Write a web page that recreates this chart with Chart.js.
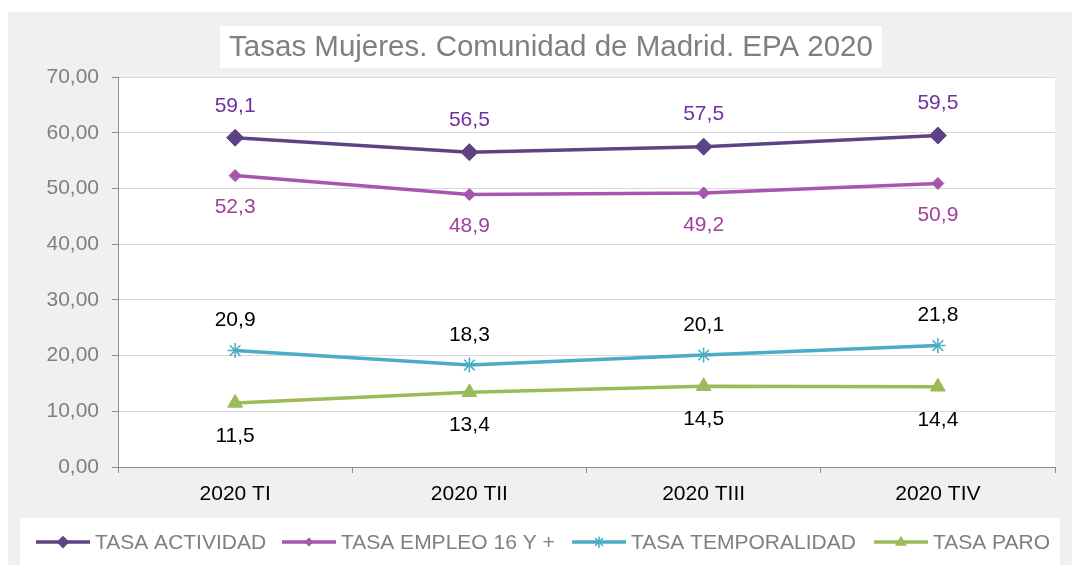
<!DOCTYPE html>
<html>
<head>
<meta charset="utf-8">
<script src="https://cdn.jsdelivr.net/npm/chart.js@4.4.1/dist/chart.umd.min.js"></script>
<style>
html,body{margin:0;padding:0;background:#fff;}
#wrap{width:1072px;height:565px;position:relative;}
</style>
</head>
<body>
<div id="wrap"><canvas id="c" width="1072" height="565"></canvas></div>
<script>
const categories = ['2020 TI', '2020 TII', '2020 TIII', '2020 TIV'];
const seriesNames = ['TASA ACTIVIDAD', 'TASA EMPLEO 16 Y +', 'TASA TEMPORALIDAD', 'TASA PARO'];
const actividad = [59.1, 56.5, 57.5, 59.5];
const empleo = [52.3, 48.9, 49.2, 50.9];
const temporalidad = [20.9, 18.3, 20.1, 21.8];
const paro = [11.5, 13.4, 14.5, 14.4];
const yTickValues = [0, 10, 20, 30, 40, 50, 60, 70];
const titleText = 'Tasas Mujeres. Comunidad de Madrid. EPA 2020';

const FONT = '"Liberation Sans", Arial, sans-serif';
const fmt = (v, d) => v.toFixed(d).replace('.', ',');

function drawMarker(ctx, style, x, y, r, color) {
  ctx.save();
  ctx.fillStyle = color; ctx.strokeStyle = color; ctx.lineWidth = 1.5;
  ctx.beginPath();
  if (style === 'rectRot') {
    ctx.moveTo(x, y - r); ctx.lineTo(x + r, y); ctx.lineTo(x, y + r); ctx.lineTo(x - r, y); ctx.closePath(); ctx.fill();
  } else if (style === 'triangle') {
    ctx.moveTo(x, y - r); ctx.lineTo(x + r * 0.95, y + r * 0.6); ctx.lineTo(x - r * 0.95, y + r * 0.6); ctx.closePath(); ctx.fill();
  } else if (style === 'star') {
    for (let a = 0; a < 4; a++) {
      const ang = a * Math.PI / 4;
      ctx.moveTo(x - Math.cos(ang) * r, y - Math.sin(ang) * r);
      ctx.lineTo(x + Math.cos(ang) * r, y + Math.sin(ang) * r);
    }
    ctx.stroke();
  }
  ctx.restore();
}

const bgPlugin = {
  id: 'bg',
  beforeDraw(chart) {
    const ctx = chart.ctx, a = chart.chartArea;
    ctx.save();
    ctx.fillStyle = '#ffffff'; ctx.fillRect(0, 0, chart.width, chart.height);
    ctx.fillStyle = '#f0f0f0'; ctx.fillRect(8, 12, 1064, 553);
    ctx.fillStyle = '#ffffff';
    ctx.fillRect(a.left, a.top, a.right - a.left, a.bottom - a.top);
    // title box
    ctx.fillRect(220, 26, 662, 42);
    // legend box
    ctx.fillRect(20, 518, 1040, 47);
    ctx.restore();
  },
  afterDraw(chart) {
    const ctx = chart.ctx;
    ctx.save();
    // title
    ctx.font = '29.5px ' + FONT;
    ctx.fillStyle = '#7f7f7f';
    ctx.textAlign = 'center'; ctx.textBaseline = 'middle';
    ctx.fillText(titleText, 551, 48);
    // data labels
    const cfg = [
      { off: -32, color: '#7030a0' },
      { off: 32, color: '#a0409c' },
      { off: -30, color: '#000000' },
      { off: 33, color: '#000000' }
    ];
    ctx.font = '21px ' + FONT;
    chart.data.datasets.forEach((ds, i) => {
      const meta = chart.getDatasetMeta(i);
      meta.data.forEach((pt, j) => {
        ctx.fillStyle = cfg[i].color;
        ctx.fillText(fmt(ds.data[j], 1), pt.x, pt.y + cfg[i].off);
      });
    });
    // legend
    const legendX = [36, 282, 572, 874];
    const ly = 542;
    ctx.textAlign = 'left';
    ctx.font = '21px ' + FONT;
    chart.data.datasets.forEach((ds, i) => {
      const x0 = legendX[i];
      ctx.strokeStyle = ds.borderColor; ctx.lineWidth = 3.5; ctx.lineCap = 'butt';
      ctx.beginPath(); ctx.moveTo(x0, ly); ctx.lineTo(x0 + 54, ly); ctx.stroke();
      drawMarker(ctx, ds.pointStyle, x0 + 27, ly, ds.pointRadius * 0.75, ds.borderColor);
      ctx.fillStyle = '#7f7f7f';
      ctx.fillText(ds.label, x0 + 59, ly + 1);
    });
    ctx.restore();
  }
};

const mk = (label, data, color, style, r, bw) => ({
  label, data, borderColor: color, backgroundColor: color,
  pointStyle: style, pointRadius: r, pointHoverRadius: r, pointBorderWidth: bw,
  pointBackgroundColor: color, pointBorderColor: color,
  borderWidth: 3.5, tension: 0, fill: false
});

new Chart(document.getElementById('c'), {
  type: 'line',
  data: {
    labels: categories,
    datasets: [
      mk(seriesNames[0], actividad, '#5d4383', 'rectRot', 8.5, 1),
      mk(seriesNames[1], empleo, '#a855ae', 'rectRot', 6, 1),
      mk(seriesNames[2], temporalidad, '#4aacc6', 'star', 7.5, 1.5),
      mk(seriesNames[3], paro, '#9bbb59', 'triangle', 8.5, 1)
    ]
  },
  options: {
    responsive: false,
    animation: false,
    events: [],
    layout: { padding: { left: 0, top: 77, right: 17, bottom: 0 } },
    plugins: { legend: { display: false }, title: { display: false }, tooltip: { enabled: false } },
    scales: {
      x: {
        offset: true,
        grid: { display: true, drawOnChartArea: false, drawTicks: true, tickLength: 6, offset: true, color: '#8c8c8c', tickColor: '#8c8c8c' },
        border: { display: true, color: '#8c8c8c', width: 1 },
        ticks: { color: '#000000', font: { family: FONT, size: 21 }, padding: 9, maxRotation: 0 },
        afterFit(s) { s.height = 98; }
      },
      y: {
        min: 0, max: 70,
        afterBuildTicks(s) { s.ticks = yTickValues.map(v => ({ value: v })); },
        grid: { color: '#d9d9d9', tickColor: '#8c8c8c', tickLength: 6, drawTicks: true },
        border: { display: true, color: '#8c8c8c', width: 1 },
        ticks: { color: '#7f7f7f', font: { family: FONT, size: 21 }, padding: 13, callback: v => fmt(v, 2) },
        afterFit(s) { s.width = 118; }
      }
    }
  },
  plugins: [bgPlugin]
});
</script>
</body>
</html>
